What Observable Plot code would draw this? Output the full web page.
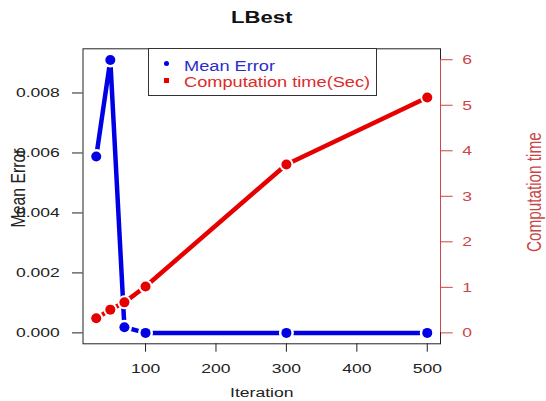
<!DOCTYPE html>
<html><head><meta charset="utf-8">
<script src="https://cdn.jsdelivr.net/npm/d3@7"></script>
<script src="https://cdn.jsdelivr.net/npm/@observablehq/plot@0.6"></script>
<style>
body{margin:0;background:#fff;font-family:"Liberation Sans",Arial,sans-serif;}
#wrap{position:relative;width:546px;height:401px;overflow:hidden;}
.legbox{position:absolute;left:148px;top:48px;width:229px;height:48px;border:1px solid #333;background:#fff;box-sizing:border-box;}
.sym{position:absolute;}
.lt{position:absolute;font-size:14px;line-height:14px;white-space:nowrap;transform:scaleX(1.3);transform-origin:left center;}
</style></head><body><div id="wrap"></div>
<script>
const iterations = [30, 50, 70, 100, 300, 500];
const meanError = [0.00588, 0.00910, 0.00019, 0, 0, 0];
const compTime = [0.32, 0.51, 0.67, 1.02, 3.70, 5.17];
const xTicks = [100, 200, 300, 400, 500];
const errorTicks = [0, 0.002, 0.004, 0.006, 0.008];
const timeTicks = [0, 1, 2, 3, 4, 5, 6];
const xDomain = [11.2, 518.8];
const errorDomain = [-0.000364, 0.009474];
const timeDomain = [-0.24, 6.24];
const legendLabels = ["Mean Error", "Computation time(Sec)"];

const blue = "#0000e6", red = "#e60000", axisRed = "#d04545";
const toErr = d3.scaleLinear().domain(timeDomain).range(errorDomain);
const data = iterations.map((x, i) => ({x, err: meanError[i], time: compTime[i]}));

const chart = Plot.plot({
  width: 546, height: 401,
  marginLeft: 82.5, marginRight: 106, marginTop: 48.3, marginBottom: 57.7,
  style: {fontFamily: '"Liberation Sans", Arial, sans-serif', background: "white"},
  x: {domain: xDomain},
  y: {domain: errorDomain},
  marks: [
    Plot.axisX(xTicks, {tickSize: 8.4, tickPadding: 11.3, fontSize: 13.5, color: "#222", label: null}),
    Plot.axisY(errorTicks, {anchor: "left", tickSize: 10.5, tickPadding: 12.7, tickFormat: d3.format(".3f"), fontSize: 13.5, color: "#222", label: null}),
    Plot.axisY(timeTicks.map(toErr), {anchor: "right", tickSize: 11.7, tickPadding: 10, tickFormat: d => String(Math.round(toErr.invert(d))), fontSize: 13.5, color: axisRed, label: null}),
    Plot.frame({stroke: "#222"}),
    Plot.ruleX([xDomain[1]], {x: d => d, y1: () => toErr(timeTicks[0]), y2: () => toErr(timeTicks[timeTicks.length - 1]), stroke: axisRed}),
    Plot.line(data, {x: "x", y: "err", stroke: blue, strokeWidth: 4.5}),
    Plot.dot(data, {x: "x", y: "err", r: 7.5, fill: "white", stroke: null}),
    Plot.dot(data, {x: "x", y: "err", r: 5, fill: blue, stroke: null}),
    Plot.line(data, {x: "x", y: d => toErr(d.time), stroke: red, strokeWidth: 4.5}),
    Plot.dot(data, {x: "x", y: d => toErr(d.time), r: 7, fill: "white", stroke: null}),
    Plot.dot(data, {x: "x", y: d => toErr(d.time), r: 5, fill: red, stroke: null}),
    Plot.text(["LBest"], {text: d => d, frameAnchor: "top", dy: -31, lineAnchor: "middle", fontSize: 17, fontWeight: "bold", fill: "#111"}),
    Plot.text(["Iteration"], {text: d => d, frameAnchor: "bottom", dy: 48.4, lineAnchor: "middle", fontSize: 13.5, fill: "#222"}),
    Plot.text(["Mean Error"], {text: d => d, frameAnchor: "left", dx: -64.5, dy: -8.3, rotate: -90, textAnchor: "middle", lineAnchor: "middle", fontSize: 15.8, fill: "#222"}),
    Plot.text(["Computation time"], {text: d => d, frameAnchor: "right", dx: 94, dy: -4.1, rotate: -90, textAnchor: "middle", lineAnchor: "middle", fontSize: 15.3, fill: "#c84545"})
  ]
});

// horizontal stretch of glyphs, as in the reference picture
chart.querySelectorAll("text").forEach(t => {
  let tr = t.getAttribute("transform");
  if (tr == null) {
    const x = t.getAttribute("x") || 0, y = t.getAttribute("y") || 0;
    t.removeAttribute("x"); t.removeAttribute("y");
    tr = `translate(${x},${y})`;
  }
  t.setAttribute("transform", tr + (tr.includes("rotate") ? " scale(1,1.3)" : " scale(1.3,1)"));
});

const wrap = document.getElementById("wrap");
wrap.appendChild(chart);

const leg = document.createElement("div");
leg.className = "legbox";
wrap.appendChild(leg);
const dot = document.createElement("div");
dot.className = "sym";
Object.assign(dot.style, {left: "163.5px", top: "61.4px", width: "5px", height: "5px", borderRadius: "50%", background: blue});
wrap.appendChild(dot);
const sq = document.createElement("div");
sq.className = "sym";
Object.assign(sq.style, {left: "163.7px", top: "77.7px", width: "5px", height: "5px", background: red});
wrap.appendChild(sq);
[[legendLabels[0], 58.8, "#2b2bd0"], [legendLabels[1], 74.8, "#dd2a2a"]].forEach(([txt, top, col]) => {
  const s = document.createElement("div");
  s.className = "lt";
  s.textContent = txt;
  Object.assign(s.style, {left: "184px", top: top + "px", color: col});
  wrap.appendChild(s);
});
</script></body></html>
